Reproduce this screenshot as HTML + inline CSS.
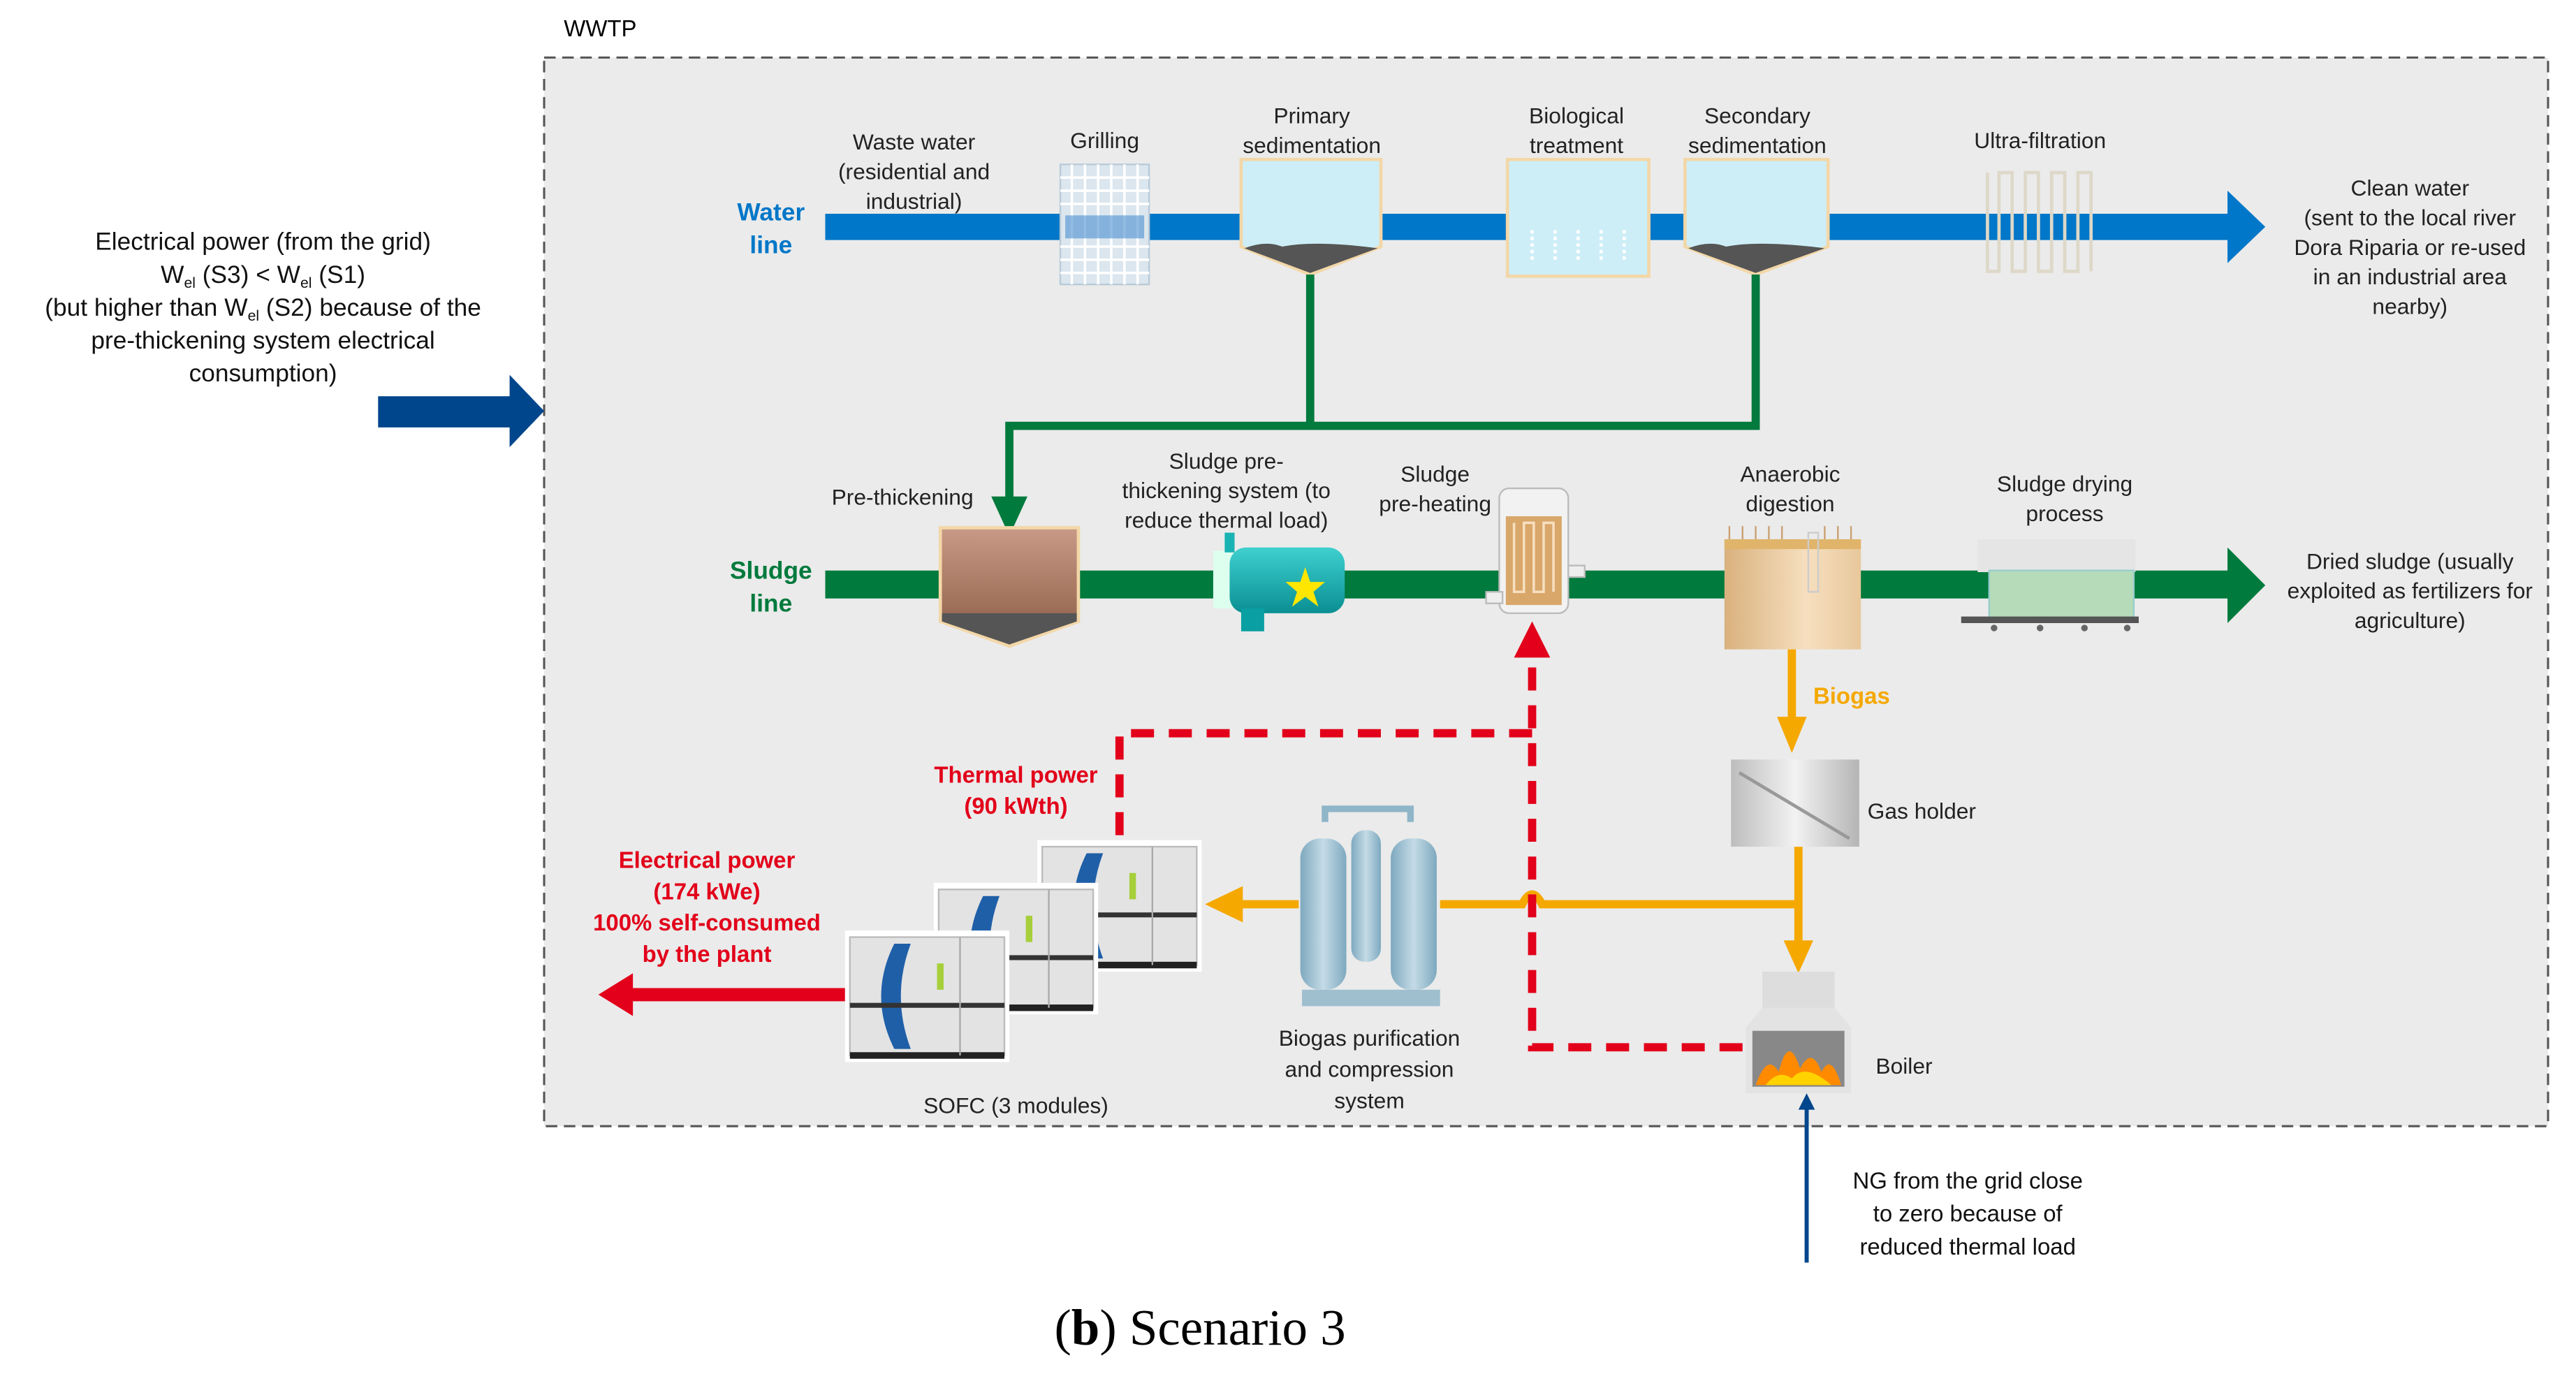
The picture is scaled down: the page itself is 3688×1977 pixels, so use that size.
<!DOCTYPE html>
<html><head><meta charset="utf-8"><style>
html,body{margin:0;padding:0;background:#fff;}
svg{display:block;}
text{font-family:"Liberation Sans Narrow","Liberation Sans",sans-serif;}
</style></head><body>
<svg width="3688" height="1977" viewBox="0 0 1567 840" xmlns="http://www.w3.org/2000/svg">
<defs>
<linearGradient id="brown" x1="0" y1="0" x2="0" y2="1"><stop offset="0" stop-color="#c99a86"/><stop offset="1" stop-color="#8a5a43"/></linearGradient>
<linearGradient id="tan" x1="0" y1="0" x2="1" y2="0"><stop offset="0" stop-color="#d9b17e"/><stop offset="0.6" stop-color="#f6dfbf"/><stop offset="1" stop-color="#e8c89b"/></linearGradient>
<linearGradient id="teal" x1="0" y1="0" x2="0" y2="1"><stop offset="0" stop-color="#3fd0cf"/><stop offset="1" stop-color="#0a8f93"/></linearGradient>
<linearGradient id="vessel" x1="0" y1="0" x2="1" y2="0"><stop offset="0" stop-color="#7ea9bf"/><stop offset="0.5" stop-color="#c4dbe6"/><stop offset="1" stop-color="#7ea9bf"/></linearGradient>
<linearGradient id="grey" x1="0" y1="0" x2="1" y2="0"><stop offset="0" stop-color="#bdbdbd"/><stop offset="0.5" stop-color="#f2f2f2"/><stop offset="1" stop-color="#b5b5b5"/></linearGradient>
<g id="sofc">
<rect x="0" y="0" width="100" height="80" fill="#fff"/>
<rect x="3" y="4" width="94" height="72" fill="#e3e3e3" stroke="#bbb"/>
<path d="M30 8 Q14 40 30 72 L40 72 Q28 40 40 8Z" fill="#1f5fa8"/>
<rect x="3" y="44" width="94" height="3" fill="#333"/>
<rect x="3" y="74" width="94" height="4" fill="#222"/>
<rect x="56" y="20" width="4" height="16" fill="#a6cf3a"/>
<line x1="70" y1="4" x2="70" y2="76" stroke="#aaa"/>
</g>
</defs>
<rect width="1567" height="840" fill="#fff"/>
<rect x="331" y="35" width="1219" height="650" fill="#ebebeb" stroke="#555" stroke-width="1.3" stroke-dasharray="7 4"/>
<text x="343" y="22" font-size="14">WWTP</text>

<g font-size="15" text-anchor="middle" fill="#111">
<text x="160" y="152">Electrical power (from the grid)</text>
<text x="160" y="172">W<tspan font-size="9" dy="3">el</tspan><tspan dy="-3"> (S3) &lt; W</tspan><tspan font-size="9" dy="3">el</tspan><tspan dy="-3"> (S1)</tspan></text>
<text x="160" y="192">(but higher than W<tspan font-size="9" dy="3">el</tspan><tspan dy="-3"> (S2) because of the</tspan></text>
<text x="160" y="212">pre-thickening system  electrical</text>
<text x="160" y="232">consumption)</text>
</g>
<polygon points="230,241 310,241 310,228 331,250 310,272 310,260 230,260" fill="#00468c"/>

<polygon points="502,130 1355,130 1355,116 1378,138 1355,160 1355,146 502,146" fill="#0077c8"/>
<text x="469" y="134" font-size="15" fill="#0077c8" text-anchor="middle" font-weight="bold">Water</text>
<text x="469" y="154" font-size="15" fill="#0077c8" text-anchor="middle" font-weight="bold">line</text>
<g font-size="13.5" text-anchor="middle" fill="#222">
<text x="556" y="91">Waste water</text><text x="556" y="109">(residential and</text><text x="556" y="127">industrial)</text>
<text x="672" y="90">Grilling</text>
<text x="798" y="75">Primary</text><text x="798" y="93">sedimentation</text>
<text x="959" y="75">Biological</text><text x="959" y="93">treatment</text>
<text x="1069" y="75">Secondary</text><text x="1069" y="93">sedimentation</text>
<text x="1241" y="90">Ultra-filtration</text>
<text x="1466" y="119">Clean water</text><text x="1466" y="137">(sent to the local river</text><text x="1466" y="155">Dora Riparia or re-used</text><text x="1466" y="173">in an industrial area</text><text x="1466" y="191">nearby)</text>
</g>
<g>
<rect x="645" y="100" width="54" height="73" fill="#dbe6ee" stroke="#b8cad8"/>
<g stroke="#fff" stroke-width="1.5">
<line x1="652" y1="100" x2="652" y2="173"/><line x1="660" y1="100" x2="660" y2="173"/><line x1="668" y1="100" x2="668" y2="173"/><line x1="676" y1="100" x2="676" y2="173"/><line x1="684" y1="100" x2="684" y2="173"/><line x1="692" y1="100" x2="692" y2="173"/>
<line x1="645" y1="108" x2="699" y2="108"/><line x1="645" y1="116" x2="699" y2="116"/><line x1="645" y1="124" x2="699" y2="124"/><line x1="645" y1="150" x2="699" y2="150"/><line x1="645" y1="158" x2="699" y2="158"/><line x1="645" y1="166" x2="699" y2="166"/>
</g>
<rect x="648" y="131" width="48" height="14" fill="#4a8fd0" opacity="0.6"/>
</g>
<path d="M755 97 L840 97 L840 150 L797 167 L755 150Z" fill="#cdeef7" stroke="#f3d7a8" stroke-width="2"/>
<path d="M757 151 Q770 146 780 150 Q800 146 838 151 L797 166Z" fill="#555"/>
<rect x="917" y="97" width="86" height="71" fill="#cdeef7" stroke="#f3d7a8" stroke-width="2"/>
<g stroke="#fff" stroke-width="2" stroke-dasharray="2 2"><line x1="932" y1="140" x2="932" y2="160"/><line x1="946" y1="140" x2="946" y2="160"/><line x1="960" y1="140" x2="960" y2="160"/><line x1="974" y1="140" x2="974" y2="160"/><line x1="988" y1="140" x2="988" y2="160"/></g>
<path d="M1025 97 L1112 97 L1112 150 L1068 167 L1025 150Z" fill="#cdeef7" stroke="#f3d7a8" stroke-width="2"/>
<path d="M1027 151 Q1040 146 1050 150 Q1070 146 1110 151 L1068 166Z" fill="#555"/>
<g fill="none" stroke="#ddd8c8" stroke-width="2">
<path d="M1209 105 V165 H1216 V105 H1224 V165 H1232 V105 H1240 V165 H1248 V105 H1256 V165 H1264 V105 H1272 V165"/>
</g>

<g fill="none" stroke="#007a3d" stroke-width="5">
<polyline points="797,167 797,259"/>
<polyline points="1068,167 1068,259 614,259 614,305"/>
</g>
<polygon points="603,302 625,302 614,326" fill="#007a3d"/>

<polygon points="502,347 1355,347 1355,333 1378,356 1355,379 1355,364 502,364" fill="#007a3d"/>
<text x="469" y="352" font-size="15" fill="#007a3d" text-anchor="middle" font-weight="bold">Sludge</text>
<text x="469" y="372" font-size="15" fill="#007a3d" text-anchor="middle" font-weight="bold">line</text>
<g font-size="13.5" text-anchor="middle" fill="#222">
<text x="549" y="307">Pre-thickening</text>
<text x="746" y="285">Sludge pre-</text><text x="746" y="303">thickening system (to</text><text x="746" y="321">reduce thermal load)</text>
<text x="873" y="293">Sludge</text><text x="873" y="311">pre-heating</text>
<text x="1089" y="293">Anaerobic</text><text x="1089" y="311">digestion</text>
<text x="1256" y="299">Sludge drying</text><text x="1256" y="317">process</text>
<text x="1466" y="346">Dried sludge (usually</text><text x="1466" y="364">exploited as fertilizers for</text><text x="1466" y="382">agriculture)</text>
</g>
<path d="M572 321 L656 321 L656 378 L614 393 L572 378Z" fill="url(#brown)" stroke="#f3d7a8" stroke-width="2"/>
<path d="M573 378 L614 392 L655 378 L655 373 L573 373Z" fill="#555"/>
<g>
<rect x="738" y="335" width="12" height="35" fill="#dfe"/>
<rect x="745" y="324" width="6" height="12" fill="#1ab3b3"/>
<rect x="748" y="333" width="70" height="40" rx="10" fill="url(#teal)"/>
<rect x="755" y="370" width="14" height="14" fill="#0a9fa2"/>
<polygon points="794,345 797,354 806,354 799,360 802,369 794,363 786,369 789,360 782,354 791,354" fill="#ffe600"/>
</g>
<g>
<rect x="912" y="297" width="42" height="76" rx="6" fill="#f2f2f2" stroke="#bbb"/>
<rect x="916" y="314" width="34" height="54" fill="#d9a76a"/>
<path d="M921 318 V360 H927 V318 H933 V360 H939 V318 H945 V360" fill="none" stroke="#f6dfbf" stroke-width="1.5"/>
<rect x="954" y="344" width="10" height="7" fill="#eee" stroke="#bbb"/>
<rect x="904" y="360" width="10" height="7" fill="#eee" stroke="#bbb"/>
</g>
<g>
<rect x="1049" y="328" width="83" height="67" fill="url(#tan)"/>
<rect x="1049" y="328" width="83" height="6" fill="#e0b46a"/>
<g stroke="#c8a070" stroke-width="1"><line x1="1052" y1="320" x2="1052" y2="328"/><line x1="1060" y1="320" x2="1060" y2="328"/><line x1="1068" y1="320" x2="1068" y2="328"/><line x1="1076" y1="320" x2="1076" y2="328"/><line x1="1084" y1="320" x2="1084" y2="328"/><line x1="1110" y1="320" x2="1110" y2="328"/><line x1="1118" y1="320" x2="1118" y2="328"/><line x1="1126" y1="320" x2="1126" y2="328"/></g>
<rect x="1100" y="324" width="6" height="36" fill="none" stroke="#ccc"/>
</g>
<g>
<rect x="1203" y="328" width="96" height="20" fill="#e5e5e5"/>
<rect x="1210" y="347" width="88" height="30" fill="#b5dbb8" stroke="#9cc"/>
<rect x="1193" y="375" width="108" height="4" fill="#555"/>
<g fill="#666"><circle cx="1213" cy="382" r="2"/><circle cx="1241" cy="382" r="2"/><circle cx="1268" cy="382" r="2"/><circle cx="1294" cy="382" r="2"/></g>
</g>

<g stroke="#f5a800" stroke-width="5" fill="none">
<line x1="1090" y1="395" x2="1090" y2="440"/>
<line x1="1094" y1="515" x2="1094" y2="575"/>
<path d="M1094 550 H938 Q932 538 926 550 H876"/>
<line x1="790" y1="550" x2="755" y2="550"/>
</g>
<polygon points="1081,436 1099,436 1090,458" fill="#f5a800"/>
<polygon points="1085,572 1103,572 1094,592" fill="#f5a800"/>
<polygon points="756,539 756,561 733,550" fill="#f5a800"/>
<text x="1103" y="428" font-size="14" fill="#f5a800" font-weight="bold">Biogas</text>
<rect x="1053" y="462" width="78" height="53" fill="url(#grey)"/>
<line x1="1058" y1="470" x2="1125" y2="510" stroke="#999" stroke-width="2"/>
<text x="1136" y="498" font-size="13.5" fill="#222">Gas holder</text>
<g>
<rect x="1072" y="591" width="44" height="22" fill="#ddd"/>
<path d="M1072 613 L1062 625 L1062 665 L1126 665 L1126 625 L1116 613Z" fill="#e3e3e3"/>
<rect x="1066" y="627" width="56" height="34" fill="#888"/>
<path d="M1068 660 Q1075 640 1082 652 Q1088 628 1095 650 Q1102 636 1108 652 Q1114 640 1120 660Z" fill="#ff8a00"/>
<path d="M1074 660 Q1082 650 1090 656 Q1098 646 1114 660Z" fill="#ffd200"/>
</g>
<text x="1141" y="653" font-size="13.5" fill="#222">Boiler</text>

<g>
<path d="M806 500 V492 H858 V500" fill="none" stroke="#8fb5c8" stroke-width="4"/>
<rect x="791" y="510" width="28" height="92" rx="12" fill="url(#vessel)"/>
<rect x="846" y="510" width="28" height="92" rx="12" fill="url(#vessel)"/>
<rect x="822" y="505" width="18" height="80" rx="8" fill="url(#vessel)"/>
<rect x="792" y="602" width="84" height="10" fill="#9fbfcf"/>
</g>
<g font-size="13.5" text-anchor="middle" fill="#222">
<text x="833" y="636">Biogas purification</text><text x="833" y="655">and compression</text><text x="833" y="674">system</text>
<text x="618" y="677">SOFC (3 modules)</text>
</g>

<use href="#sofc" x="631" y="511"/>
<use href="#sofc" x="568" y="537"/>
<use href="#sofc" x="514" y="566"/>

<g fill="none" stroke="#e2001a" stroke-width="5" stroke-dasharray="14 9">
<polyline points="1060,637 932,637 932,400"/>
<polyline points="932,446 681,446 681,512"/>
</g>
<polygon points="921,400 943,400 932,378" fill="#e2001a"/>
<g font-size="14" fill="#e2001a" text-anchor="middle" font-weight="bold">
<text x="618" y="476">Thermal power</text><text x="618" y="495">(90 kWth)</text>
<text x="430" y="528">Electrical power</text><text x="430" y="547">(174 kWe)</text><text x="430" y="566">100% self-consumed</text><text x="430" y="585">by the plant</text>
</g>
<polygon points="514,601 385,601 385,592 364,605 385,618 385,609 514,609" fill="#e2001a"/>

<line x1="1099" y1="768" x2="1099" y2="672" stroke="#00468c" stroke-width="2.5"/>
<polygon points="1094,675 1104,675 1099,665" fill="#00468c"/>
<g font-size="14" text-anchor="middle" fill="#111">
<text x="1197" y="723">NG from the grid close</text><text x="1197" y="743">to zero because of</text><text x="1197" y="763">reduced thermal load</text>
</g>

<text x="730" y="818" font-size="31" text-anchor="middle" style="font-family:'Liberation Serif',serif" fill="#000">(<tspan font-weight="bold">b</tspan>) Scenario 3</text>
</svg>
</body></html>
